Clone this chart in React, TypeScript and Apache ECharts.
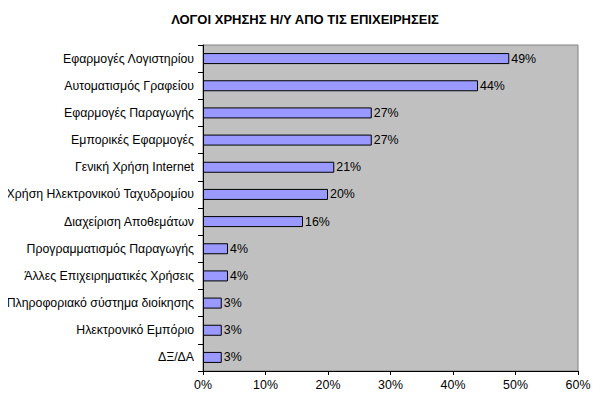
import React, { useEffect, useRef } from "react";
import * as echarts from "echarts";

const categories = [
  "Εφαρμογές Λογιστηρίου",
  "Αυτοματισμός Γραφείου",
  "Εφαρμογές Παραγωγής",
  "Εμπορικές Εφαρμογές",
  "Γενική Χρήση Internet",
  "Χρήση Ηλεκτρονικού Ταχυδρομίου",
  "Διαχείριση Αποθεμάτων",
  "Προγραμματισμός Παραγωγής",
  "Άλλες Επιχειρηματικές Χρήσεις",
  "Πληροφοριακό σύστημα διοίκησης",
  "Ηλεκτρονικό Εμπόριο",
  "ΔΞ/ΔΑ",
];
const values = [49, 44, 27, 27, 21, 20, 16, 4, 4, 3, 3, 3];
const title = "ΛΟΓΟΙ ΧΡΗΣΗΣ Η/Υ ΑΠΟ ΤΙΣ ΕΠΙΧΕΙΡΗΣΕΙΣ";

export default function App() {
  const ref = useRef<HTMLDivElement>(null);
  useEffect(() => {
    const chart = echarts.init(ref.current!, null, { renderer: "svg" });
    chart.setOption({
      animation: false,
      backgroundColor: "#ffffff",
      textStyle: { fontFamily: "Liberation Sans, Arial, sans-serif" },
      title: {
        text: title,
        left: 300,
        textAlign: "center",
        top: 8,
        textStyle: { fontSize: 13, fontWeight: "bold", color: "#000" },
      },
      grid: {
        left: 203,
        right: 22,
        top: 45,
        bottom: 28,
        show: true,
        backgroundColor: "#C0C0C0",
        borderColor: "#808080",
        borderWidth: 1,
      },
      xAxis: {
        type: "value",
        min: 0,
        max: 60,
        interval: 10,
        axisLine: { show: true, lineStyle: { color: "#000" } },
        axisTick: { show: true, length: 4, lineStyle: { color: "#000" } },
        splitLine: { show: false },
        axisLabel: {
          formatter: "{value}%",
          color: "#000",
          fontSize: 12.4,
          margin: 8,
        },
      },
      yAxis: {
        type: "category",
        data: categories,
        inverse: true,
        axisLine: { show: true, lineStyle: { color: "#000" } },
        axisTick: { show: true, length: 5, lineStyle: { color: "#000" } },
        axisLabel: { color: "#000", fontSize: 12.3, margin: 9 },
        splitLine: { show: false },
      },
      series: [
        {
          type: "bar",
          data: values,
          barWidth: 11,
          itemStyle: { color: "#9999FF", borderColor: "#000", borderWidth: 1 },
          label: {
            show: true,
            position: "right",
            formatter: "{c}%",
            color: "#000",
            fontSize: 12.4,
            distance: 2,
          },
        },
      ],
    });
    return () => chart.dispose();
  }, []);
  return <div ref={ref} style={{ width: 600, height: 399, margin: -8 }} />;
}
